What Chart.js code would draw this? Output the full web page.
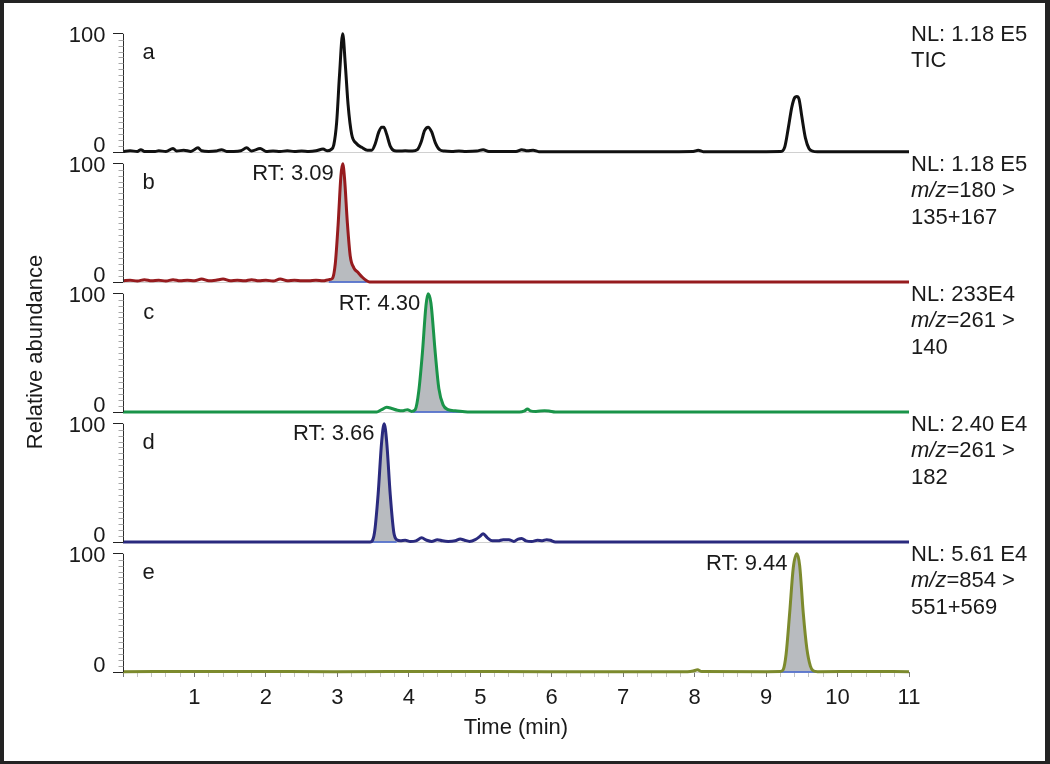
<!DOCTYPE html>
<html>
<head>
<meta charset="utf-8">
<title>SRM chromatograms</title>
<script src="https://cdn.jsdelivr.net/npm/chart.js@4.4.1/dist/chart.umd.min.js"></script>
<style>
  html, body { margin: 0; padding: 0; background: #fff; }
  #frame {
    position: relative;
    width: 1050px;
    height: 764px;
    box-sizing: border-box;
    border-style: solid;
    border-color: #232323;
    border-width: 3px 5px 3px 4px;
    background: #fff;
  }
  canvas { display: block; }
</style>
</head>
<body>
<div id="frame"><canvas id="chrom" width="1041" height="758"></canvas></div>
<script>
'use strict'

//Data ---------------------------------------------------------
// a: TIC
const timeA = [0, 0.1, 0.2, 0.25, 0.3, 0.45, 0.5, 0.6, 0.7, 0.75, 0.85, 0.95, 1.05, 1.1, 1.2, 1.3, 1.38, 1.45, 1.55, 1.65,
  1.73, 1.8, 1.92, 2.0, 2.1, 2.2, 2.3, 2.4, 2.5, 2.6, 2.7, 2.8, 2.86, 2.91, 2.95, 2.99, 3.03, 3.075, 3.11, 3.15,
  3.2, 3.27, 3.34, 3.42, 3.48, 3.53, 3.58, 3.62, 3.65, 3.69, 3.74, 3.8, 3.86, 3.95, 4.05, 4.12, 4.17, 4.22, 4.27, 4.32,
  4.37, 4.43, 4.5, 4.6, 4.7, 4.8, 4.95, 5.04, 5.12, 5.3, 5.5, 5.58, 5.66, 5.74, 5.82, 6.5, 7.5, 7.98, 8.05, 8.12,
  9.0, 9.2, 9.26, 9.31, 9.36, 9.4, 9.43, 9.46, 9.5, 9.55, 9.6, 9.65, 9.72, 10.5, 11];
const absA = [0.5, 1, 0.5, 2, 0.5, 0.5, 1, 0.5, 3, 0.8, 1.5, 0.5, 3.5, 1, 0.5, 0.8, 2, 0.5, 0.5, 1,
  3.5, 0.8, 3, 0.5, 0.8, 0.5, 1, 0.5, 0.8, 0.5, 1, 2.5, 1, 2, 6, 25, 65, 100, 75, 40,
  15, 7, 4, 1.5, 1.5, 7, 17, 21, 21, 15, 5, 1, 0.8, 1, 0.8, 2, 8, 18, 21, 17,
  8, 2, 0.8, 0.5, 0.8, 0.5, 0.8, 2, 0.5, 0.5, 0.5, 2, 1, 1.5, 0.3, 0.3, 0.3, 0.5, 1.5, 0.3,
  0.3, 0.4, 4, 20, 38, 46, 47, 45, 30, 12, 3, 0.8, 0.3, 0.3, 0.3];

// b: m/z 180 > 135+167
const timeB = [0, 0.1, 0.2, 0.3, 0.4, 0.5, 0.6, 0.7, 0.8, 0.9, 1.0, 1.1, 1.2, 1.3, 1.4, 1.5, 1.6, 1.7, 1.8, 1.9,
  2.0, 2.1, 2.2, 2.3, 2.4, 2.5, 2.6, 2.7, 2.8, 2.88, 2.93, 2.97, 3.01, 3.05, 3.075, 3.1, 3.14, 3.18, 3.23, 3.29,
  3.35, 3.41, 3.45, 11];
const absB = [1, 1.5, 0.8, 2, 1, 1.5, 0.8, 2, 1, 1.5, 1, 2.5, 1, 1.5, 2.5, 1, 1.5, 1, 2, 1,
  1.5, 0.8, 2.5, 1, 1.5, 1, 1, 1.5, 1, 2, 3, 15, 48, 90, 100, 88, 50, 22, 12, 8,
  4, 1, 0, 0];

// c: m/z 261 > 140
const timeC = [0, 3.55, 3.62, 3.69, 3.76, 3.84, 3.92, 3.98, 4.04, 4.09, 4.14, 4.19, 4.24, 4.27, 4.31, 4.37, 4.42, 4.48, 4.55, 4.65,
  4.75, 4.85, 5.55, 5.62, 5.66, 5.7, 5.78, 5.9, 5.96, 6.05, 11];
const absC = [0, 0, 2, 4, 3, 1.5, 1, 2, 0.5, 2, 18, 50, 90, 100, 92, 50, 20, 6, 2, 1,
  0.5, 0, 0, 1, 2.5, 1, 0.5, 1, 0.8, 0, 0];

// d: m/z 261 > 182
const timeD = [0, 3.46, 3.52, 3.57, 3.62, 3.655, 3.69, 3.74, 3.79, 3.83, 3.88, 3.95, 4.02, 4.1, 4.18, 4.25, 4.32, 4.4, 4.47, 4.55,
  4.65, 4.72, 4.78, 4.85, 4.93, 5.0, 5.04, 5.1, 5.17, 5.25, 5.32, 5.4, 5.47, 5.53, 5.58, 5.64, 5.72, 5.8, 5.87, 5.93,
  5.98, 6.05, 11];
const absD = [0, 0, 8, 40, 85, 100, 85, 40, 8, 2, 1, 1.5, 0.5, 1, 3.5, 1.5, 0.5, 2, 1, 0.5,
  1, 2.5, 1.5, 0.5, 2, 5, 7, 3.5, 1, 1, 2, 2, 0.5, 2.5, 3, 1, 0.5, 1.5, 1, 2,
  1.5, 0, 0];

// e: m/z 854 > 551+569
const timeE = [0, 1.5, 3, 4.5, 6, 7.9, 7.98, 8.04, 8.1, 9.0, 9.2, 9.24, 9.28, 9.33, 9.38, 9.43, 9.47, 9.52, 9.57, 9.62,
  9.66, 9.72, 10.4, 11];
const absE = [0.3, 0.4, 0.3, 0.4, 0.3, 0.3, 0.8, 1.8, 0.4, 0.3, 0.4, 2, 15, 50, 88, 100, 90, 50, 20, 5,
  1, 0.3, 0.4, 0.3];

const panelTimes = [timeA, timeB, timeC, timeD, timeE];
const panelAbundances = [absA, absB, absC, absD, absE];
const panelLetters = ['a', 'b', 'c', 'd', 'e'];
const normLevels = ['NL: 1.18 E5', 'NL: 1.18 E5', 'NL: 233E4', 'NL: 2.40 E4', 'NL: 5.61 E4'];
const precursors = [null, '180', '261', '261', '854'];
const products = [null, '135+167', '140', '182', '551+569'];
const retentionTimes = [null, 3.09, 4.30, 3.66, 9.44];
const peakWindows = [null, [2.88, 3.41], [4.06, 4.79], [3.46, 3.83], [9.2, 9.72]];
const timeTicks = [1, 2, 3, 4, 5, 6, 7, 8, 9, 10, 11];
const abundanceTicks = [0, 100];

//Styles ---------------------------------------------------------
const FONT = '"Liberation Sans", Arial, Helvetica, sans-serif';
const TEXT_COLOR = '#1a1a1a';
const traceColors = ['#111111', '#961b1e', '#1a9449', '#2a2a7e', '#7c8a2d'];
const PEAK_FILL = '#b8bbbf';
const BASE_BLUE = '#4263cf';

//Build datasets ---------------------------------------------------------
function toPoints(times, values) {
  return times.map((t, i) => ({ x: t, y: values[i] }));
}

const datasets = [];
for (let i = 0; i < panelTimes.length; i++) {
  const pts = toPoints(panelTimes[i], panelAbundances[i]);
  const axisId = 'y' + i;
  datasets.push({
    data: pts,
    yAxisID: axisId,
    borderColor: traceColors[i],
    borderWidth: 3,
    pointRadius: 0,
    tension: 0.4,
    cubicInterpolationMode: 'monotone',
    fill: false,
    clip: 4,
    order: 1
  });
  const win = peakWindows[i];
  if (win) {
    datasets.push({
      data: pts.filter(p => p.x >= win[0] && p.x <= win[1]),
      yAxisID: axisId,
      borderWidth: 0,
      borderColor: 'rgba(0,0,0,0)',
      backgroundColor: PEAK_FILL,
      pointRadius: 0,
      tension: 0.4,
      cubicInterpolationMode: 'monotone',
      fill: 'origin',
      order: 3
    });
    datasets.push({
      data: [{ x: win[0], y: 0 }, { x: win[1], y: 0 }],
      yAxisID: axisId,
      borderColor: BASE_BLUE,
      borderWidth: 1.5,
      pointRadius: 0,
      fill: false,
      clip: 3,
      order: 2
    });
  }
}

//Scales ---------------------------------------------------------
const scales = {
  x: {
    type: 'linear',
    position: 'bottom',
    min: 0,
    max: 11,
    afterBuildTicks: (scale) => {
      const ticks = [];
      for (let k = 0; k <= 55; k++) ticks.push({ value: k / 5 });
      scale.ticks = ticks;
    },
    afterFit: (scale) => { scale.height = 89; },
    ticks: {
      autoSkip: false,
      maxRotation: 0,
      minRotation: 0,
      padding: 8,
      color: TEXT_COLOR,
      font: { family: FONT, size: 22 },
      callback: (v) => timeTicks.includes(v) ? String(v) : ''
    },
    grid: {
      drawOnChartArea: false,
      drawTicks: true,
      tickLength: 5,
      tickColor: (c) => Number.isInteger(c.tick.value) ? '#777' : '#c4c4c4'
    },
    border: { display: false },
    title: {
      display: true,
      text: 'Time (min)',
      color: TEXT_COLOR,
      font: { family: FONT, size: 22 },
      padding: { top: 0, bottom: 20 }
    }
  }
};

// stacked left axes are laid out bottom-up, so add the lowest panel first
for (let i = panelTimes.length - 1; i >= 0; i--) {
  scales['y' + i] = {
    type: 'linear',
    position: 'left',
    stack: 'panels',
    stackWeight: 1,
    offset: false,
    min: 0,
    max: 110,
    afterBuildTicks: (scale) => {
      scale.ticks = abundanceTicks.map(v => ({ value: v }));
    },
    afterFit: (scale) => { scale.width = 119; },
    ticks: { display: false },
    grid: {
      drawOnChartArea: true,
      drawTicks: true,
      tickLength: 10,
      tickColor: '#222',
      color: (c) => (c.tick && c.tick.value === 0) ? '#d0d0d0' : 'rgba(0,0,0,0)'
    },
    border: { display: false }
  };
}

//Decorations plugin ---------------------------------------------------------
const panelDecor = {
  id: 'panelDecor',
  afterDraw(chart) {
    const ctx = chart.ctx;
    const xs = chart.scales.x;
    const area = chart.chartArea;
    ctx.save();
    ctx.font = `22px ${FONT}`;
    ctx.fillStyle = TEXT_COLOR;

    for (let i = 0; i < panelTimes.length; i++) {
      const ys = chart.scales['y' + i];
      const ax = Math.round(ys.right) + 0.5;
      const yTop = ys.getPixelForValue(100);
      const yBot = ys.getPixelForValue(0);

      // axis line and minor ticks
      ctx.lineWidth = 1;
      ctx.strokeStyle = '#2a2a2a';
      ctx.beginPath();
      ctx.moveTo(ax, yTop);
      ctx.lineTo(ax, yBot);
      ctx.stroke();
      ctx.strokeStyle = '#a8a8a8';
      ctx.beginPath();
      for (let v = 5; v < 100; v += 5) {
        const y = Math.round(ys.getPixelForValue(v)) + 0.5;
        ctx.moveTo(ax - 5, y);
        ctx.lineTo(ax, y);
      }
      ctx.stroke();

      // tick labels
      ctx.textAlign = 'right';
      ctx.textBaseline = 'middle';
      ctx.fillText('100', ax - 18, yTop + 2);
      ctx.fillText('0', ax - 18, yBot - 6);

      // panel letter
      ctx.textAlign = 'center';
      ctx.fillText(panelLetters[i], xs.getPixelForValue(0.36), ys.getPixelForValue(84));

      // retention time
      if (retentionTimes[i] !== null) {
        ctx.textAlign = 'right';
        ctx.fillText('RT: ' + retentionTimes[i].toFixed(2), xs.getPixelForValue(retentionTimes[i]) - 10, yTop + 10);
      }

      // right side annotation
      const tx = area.right + 2;
      ctx.textAlign = 'left';
      ctx.fillText(normLevels[i], tx, yTop + 1);
      if (precursors[i] === null) {
        ctx.fillText('TIC', tx, yTop + 27.5);
      } else {
        ctx.font = `italic 22px ${FONT}`;
        ctx.fillText('m/z', tx, yTop + 27.5);
        const w = ctx.measureText('m/z').width;
        ctx.font = `22px ${FONT}`;
        ctx.fillText('=' + precursors[i] + ' >', tx + w, yTop + 27.5);
        ctx.fillText(products[i], tx, yTop + 54);
      }
    }

    // y title
    ctx.translate(38, 349);
    ctx.rotate(-Math.PI / 2);
    ctx.textAlign = 'center';
    ctx.textBaseline = 'alphabetic';
    ctx.fillText('Relative abundance', 0, 0);
    ctx.restore();
  }
};

//Chart ---------------------------------------------------------
const chromChart = new Chart(document.getElementById('chrom'), {
  type: 'line',
  data: { datasets: datasets },
  options: {
    responsive: false,
    animation: false,
    devicePixelRatio: 1,
    layout: { padding: { left: 0, right: 136, top: 19, bottom: 0 } },
    plugins: {
      legend: { display: false },
      tooltip: { enabled: false }
    },
    scales: scales
  },
  plugins: [panelDecor]
});
</script>
</body>
</html>
